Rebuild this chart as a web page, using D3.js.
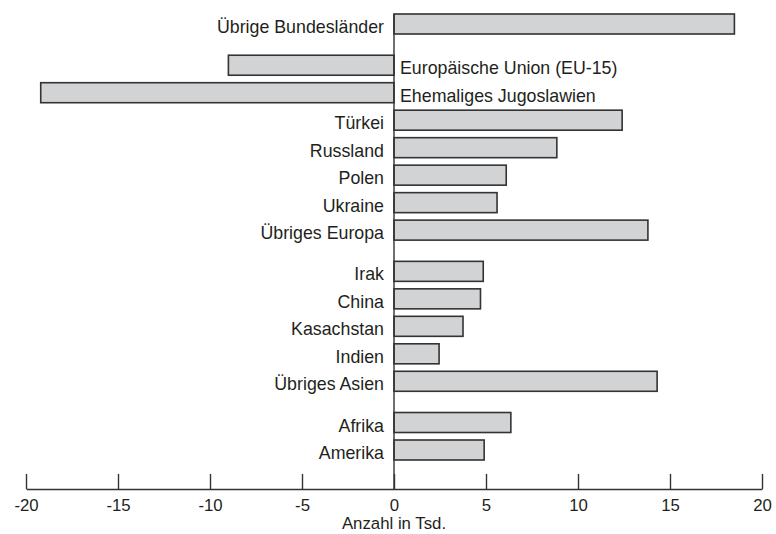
<!DOCTYPE html>
<html>
<head>
<meta charset="utf-8">
<script src="https://cdn.jsdelivr.net/npm/d3@7"></script>
<style>
  body { margin: 0; background: #fff; }
  text { font-family: "Liberation Sans", Arial, sans-serif; fill: #231f20; }
</style>
</head>
<body>
<div id="chart"></div>
<script>
/**
 * DATA
 * */
const categories = [
  "Übrige Bundesländer",
  "Europäische Union (EU-15)",
  "Ehemaliges Jugoslawien",
  "Türkei",
  "Russland",
  "Polen",
  "Ukraine",
  "Übriges Europa",
  "Irak",
  "China",
  "Kasachstan",
  "Indien",
  "Übriges Asien",
  "Afrika",
  "Amerika"
];
const values = [18.5, -9.0, -19.2, 12.4, 8.85, 6.1, 5.6, 13.8, 4.85, 4.7, 3.75, 2.45, 14.3, 6.35, 4.9];
// group number of each category (a half-slot gap separates groups)
const groups = [0, 1, 1, 1, 1, 1, 1, 1, 2, 2, 2, 2, 2, 3, 3];
const xTicks = [-20, -15, -10, -5, 0, 5, 10, 15, 20];
const xTitle = "Anzahl in Tsd.";

/**
 * CONSTANTS
 * */
const width = 776,
  height = 534,
  barH = 20,
  axisY = 489;

const data = categories.map((c, i) => ({ name: c, value: values[i], slot: i + 0.5 * groups[i] }));

const svg = d3.select("#chart")
  .append("svg")
  .attr("width", width)
  .attr("height", height);

const x = d3.scaleLinear().domain([-20, 20]).range([26, 762]);
const y = d3.scaleLinear().domain([0, 15.5]).range([14, 440]);

// bars
svg.append("g")
  .selectAll("rect")
  .data(data)
  .join("rect")
  .attr("x", d => x(Math.min(0, d.value)))
  .attr("y", d => y(d.slot))
  .attr("width", d => Math.abs(x(d.value) - x(0)))
  .attr("height", barH)
  .attr("fill", "#d2d3d5")
  .attr("stroke", "#333")
  .attr("stroke-width", 1.6);

// zero line
svg.append("line")
  .attr("x1", x(0)).attr("x2", x(0))
  .attr("y1", 14).attr("y2", axisY)
  .attr("stroke", "#333")
  .attr("stroke-width", 1.4);

// category labels
svg.append("g")
  .selectAll("text")
  .data(data)
  .join("text")
  .attr("x", d => d.value >= 0 ? x(0) - 10 : x(0) + 6)
  .attr("y", d => y(d.slot) + barH / 2 + 9)
  .attr("text-anchor", d => d.value >= 0 ? "end" : "start")
  .attr("font-size", 17.8)
  .text(d => d.name);

// x axis
const axis = d3.axisBottom(x)
  .tickValues(xTicks)
  .tickSize(0)
  .tickPadding(10)
  .tickFormat(d => String(d));

const gx = svg.append("g")
  .attr("transform", `translate(0,${axisY})`)
  .call(axis);
gx.select(".domain").attr("stroke", "#333").attr("stroke-width", 1.4);
gx.selectAll(".tick line").remove();
gx.selectAll(".tick")
  .append("line")
  .attr("y1", 0).attr("y2", -15)
  .attr("stroke", "#333")
  .attr("stroke-width", 1.4);
gx.selectAll(".tick text")
  .attr("font-size", 16.8)
  .attr("font-family", "Liberation Sans, Arial, sans-serif")
  .attr("fill", "#231f20");

svg.append("text")
  .attr("x", x(0))
  .attr("y", 529)
  .attr("text-anchor", "middle")
  .attr("font-size", 16.8)
  .text(xTitle);
</script>
</body>
</html>
